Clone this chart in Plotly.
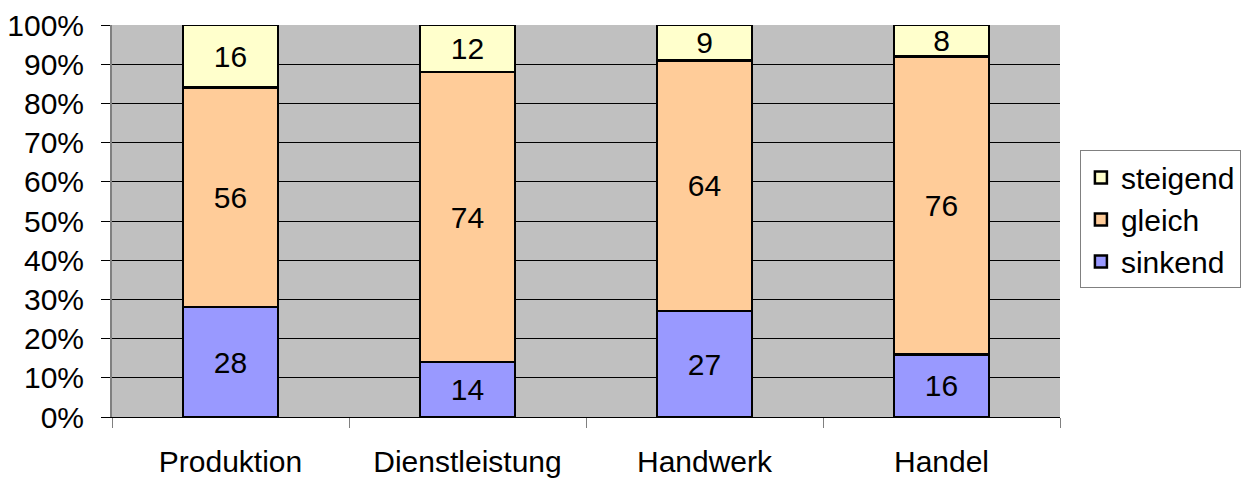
import plotly.graph_objects as go

categories = ["Produktion", "Dienstleistung", "Handwerk", "Handel"]
sinkend = [28, 14, 27, 16]
gleich = [56, 74, 64, 76]
steigend = [16, 12, 9, 8]
y_ticks = list(range(0, 101, 10))
y_tick_labels = [f"{v}%" for v in y_ticks]

FONT = "Liberation Sans, Arial, sans-serif"
FS = 30

fig = go.Figure()
for name, vals, color in [
    ("sinkend", sinkend, "#9999FF"),
    ("gleich", gleich, "#FFCC99"),
    ("steigend", steigend, "#FFFFCC"),
]:
    fig.add_trace(go.Bar(
        name=name, x=categories, y=vals,
        text=[str(v) for v in vals],
        textposition="inside", insidetextanchor="middle",
        constraintext="none", textangle=0,
        textfont=dict(family=FONT, size=FS, color="black"),
        marker=dict(color=color, line=dict(color="black", width=2.5)),
        width=0.4,
    ))

# the page body adds an 8px offset, so the figure is 8px smaller
fig.update_layout(
    barmode="stack",
    width=1245, height=471,
    margin=dict(l=104, r=193, t=17, b=62),
    paper_bgcolor="white",
    plot_bgcolor="#C0C0C0",
    font=dict(family=FONT, size=FS, color="black"),
    showlegend=True,
    legend=dict(
        traceorder="reversed",
        x=1.021, xanchor="left", y=0.68, yanchor="top",
        bgcolor="white", bordercolor="#808080", borderwidth=1,
        font=dict(family=FONT, size=FS, color="black"),
        itemwidth=30,
        tracegroupgap=0,
    ),
)
fig.update_yaxes(
    range=[0, 100],
    tickvals=y_ticks, ticktext=y_tick_labels,
    showgrid=True, gridcolor="black", gridwidth=1,
    ticks="outside", ticklen=9, tickcolor="black", tickwidth=1,
    showline=True, linecolor="#808080", linewidth=2,
    zeroline=False,
    automargin=False,
    ticklabelstandoff=11,
    tickfont=dict(family=FONT, size=FS, color="black"),
)
fig.update_xaxes(
    type="category",
    tickson="boundaries",
    ticks="outside", ticklen=10, tickcolor="#808080", tickwidth=1,
    showline=True, linecolor="black", linewidth=1,
    showgrid=False,
    automargin=False,
    ticklabelstandoff=18,
    tickfont=dict(family=FONT, size=FS, color="black"),
)

fig.write_html("out.html")
